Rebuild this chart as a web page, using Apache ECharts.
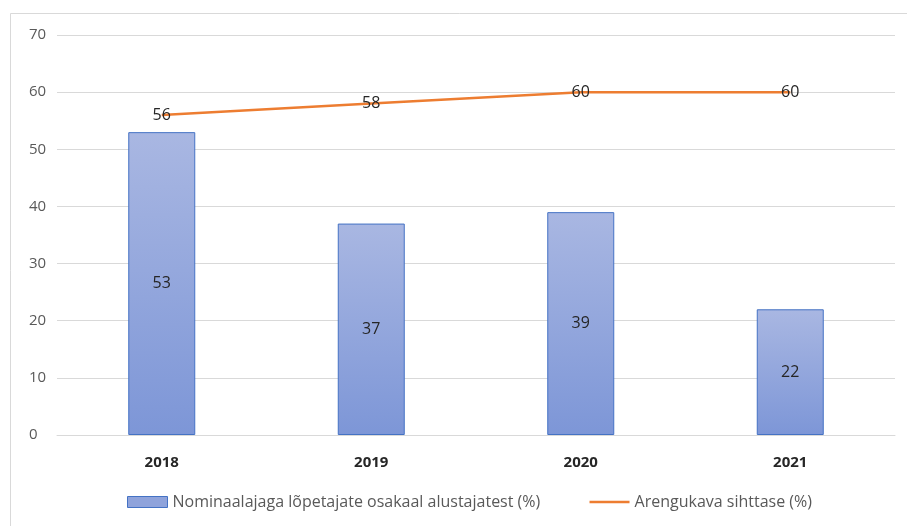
<!DOCTYPE html>
<html>
<head>
<meta charset="utf-8">
<script src="https://cdn.jsdelivr.net/npm/echarts@6/dist/echarts.min.js"></script>
<style>
  html, body { margin: 0; padding: 0; background: #fff; }
  #chart { width: 907px; height: 526px; }
</style>
</head>
<body>
<div id="chart"></div>
<script>
// data
const years = ['2018', '2019', '2020', '2021'];
const graduatedShare = [53, 37, 39, 22];
const targetLevel = [56, 58, 60, 60];
const seriesNames = ['Nominaalajaga lõpetajate osakaal alustajatest (%)', 'Arengukava sihttase (%)'];

const font = '"Open Sans", "Noto Sans", sans-serif';

const myChart = echarts.init(document.getElementById('chart'));
myChart.setOption({
  backgroundColor: '#fff',
  animation: false,
  textStyle: { fontFamily: font },
  graphic: [{
    type: 'rect',
    left: 8,
    top: 11,
    shape: { width: 1000, height: 600 },
    style: { fill: 'none', stroke: '#D9D9D9', lineWidth: 1 },
    silent: true,
  }],
  grid: {
    top: 35,
    left: 57,
    right: 12,
    bottom: 91,
    containLabel: false,
  },
  legend: {
    left: 122,
    top: 489,
    itemWidth: 40,
    itemHeight: 11,
    itemGap: 48,
    textStyle: { color: '#595959', fontSize: 16, fontFamily: font },
    data: [
      { name: seriesNames[0], icon: 'rect', itemStyle: { color: '#8FA3DB', borderColor: '#4472C4', borderWidth: 1 } },
      { name: seriesNames[1], itemStyle: { opacity: 0 }, lineStyle: { color: '#ED7D31', width: 2.5 } },
    ],
  },
  xAxis: {
    type: 'category',
    data: years,
    axisTick: { show: false },
    axisLine: { lineStyle: { color: '#D9D9D9', width: 1 } },
    axisLabel: { color: '#262626', fontSize: 15, fontWeight: 'bold', margin: 20 },
  },
  yAxis: {
    type: 'value',
    min: 0,
    max: 70,
    interval: 10,
    axisLine: { show: false },
    axisTick: { show: false },
    axisLabel: { color: '#595959', fontSize: 15, margin: 28, align: 'left' },
    splitLine: { lineStyle: { color: '#D9D9D9', width: 1 } },
  },
  series: [
    {
      name: seriesNames[0],
      type: 'bar',
      data: graduatedShare,
      barWidth: 67,
      itemStyle: {
        color: new echarts.graphic.LinearGradient(0, 0, 0, 1, [
          { offset: 0, color: '#A9B7E2' },
          { offset: 1, color: '#7D96D7' },
        ]),
        borderColor: '#4472C4',
        borderWidth: 1,
      },
      label: {
        show: true,
        position: 'inside',
        color: '#262626',
        fontSize: 16,
        fontFamily: font,
      },
    },
    {
      name: seriesNames[1],
      type: 'line',
      data: targetLevel,
      symbol: 'circle',
      symbolSize: 2,
      showSymbol: true,
      lineStyle: { color: '#ED7D31', width: 2.5 },
      itemStyle: { color: 'rgba(0,0,0,0)' },
      label: {
        show: true,
        position: 'inside',
        color: '#262626',
        fontSize: 16,
        fontFamily: font,
      },
      z: 3,
    },
  ],
});
</script>
</body>
</html>
